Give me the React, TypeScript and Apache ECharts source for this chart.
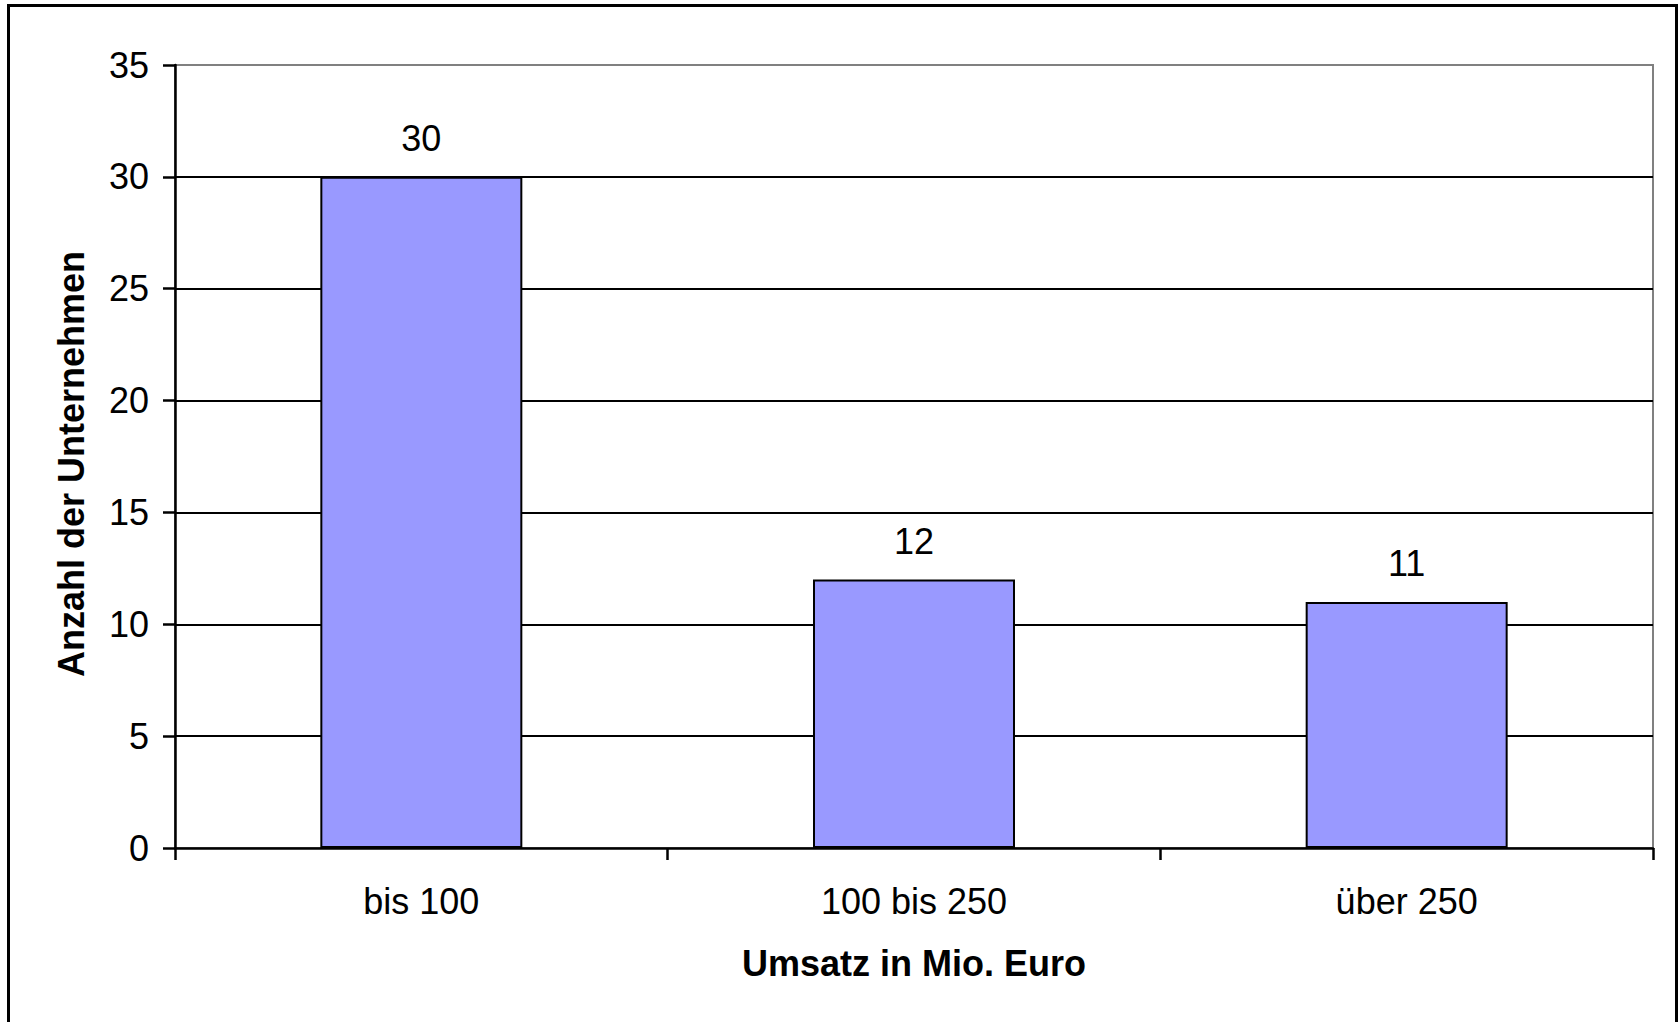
import React, { useEffect, useRef } from "react";
import * as echarts from "echarts";

const categories = ["bis 100", "100 bis 250", "über 250"];
const values = [30, 12, 11];
const yTicks = { min: 0, max: 35, interval: 5 };
const xAxisTitle = "Umsatz in Mio. Euro";
const yAxisTitle = "Anzahl der Unternehmen";

const FONT = "'Liberation Sans', Arial, Helvetica, sans-serif";

export default function App() {
  const ref = useRef<HTMLDivElement>(null);
  useEffect(() => {
    if (!ref.current) return;
    const chart = echarts.init(ref.current, undefined, { renderer: "svg" });
    chart.setOption({
      animation: false,
      backgroundColor: "#ffffff",
      textStyle: { fontFamily: FONT },
      graphic: [
        {
          type: "rect",
          silent: true,
          z: 100,
          shape: { x: 8.5, y: 5.5, width: 1668, height: 1040 },
          style: { fill: "none", stroke: "#000000", lineWidth: 3 },
        },
      ],
      grid: {
        left: 175,
        top: 65,
        right: 25,
        bottom: 174,
        show: true,
        borderColor: "#808080",
        borderWidth: 2,
        backgroundColor: "#ffffff",
      },
      xAxis: {
        type: "category",
        data: categories,
        boundaryGap: true,
        name: xAxisTitle,
        nameLocation: "middle",
        nameGap: 97,
        nameTextStyle: { fontFamily: FONT, fontSize: 36, fontWeight: "bold", color: "#000" },
        axisLine: { show: true, lineStyle: { color: "#000", width: 2.5 } },
        axisTick: { show: true, inside: false, length: 12, alignWithLabel: false, lineStyle: { color: "#000", width: 2.5 } },
        axisLabel: { margin: 35, fontFamily: FONT, fontSize: 36, color: "#000" },
        splitLine: { show: false },
      },
      yAxis: {
        type: "value",
        min: yTicks.min,
        max: yTicks.max,
        interval: yTicks.interval,
        name: yAxisTitle,
        nameLocation: "middle",
        nameGap: 86,
        nameRotate: 90,
        nameTextStyle: {
          fontFamily: FONT,
          fontSize: 36,
          fontWeight: "bold",
          color: "#000",
          padding: [0, 15, 0, 0],
        },
        axisLine: { show: true, lineStyle: { color: "#000", width: 2.5 } },
        axisTick: { show: true, inside: false, length: 12, lineStyle: { color: "#000", width: 2.5 } },
        axisLabel: { margin: 26, fontFamily: FONT, fontSize: 36, color: "#000" },
        splitLine: { show: true, showMaxLine: false, showMinLine: false, lineStyle: { color: "#000", width: 2 } },
      },
      series: [
        {
          type: "bar",
          data: values,
          barWidth: "41%",
          itemStyle: { color: "#9999FF", borderColor: "#000", borderWidth: 2 },
          label: {
            show: true,
            position: "top",
            distance: 20,
            fontFamily: FONT,
            fontSize: 36,
            color: "#000",
          },
        },
      ],
    });
    return () => chart.dispose();
  }, []);
  return (
    <div
      ref={ref}
      style={{ position: "absolute", left: 0, top: 0, width: 1678, height: 1022 }}
    />
  );
}
